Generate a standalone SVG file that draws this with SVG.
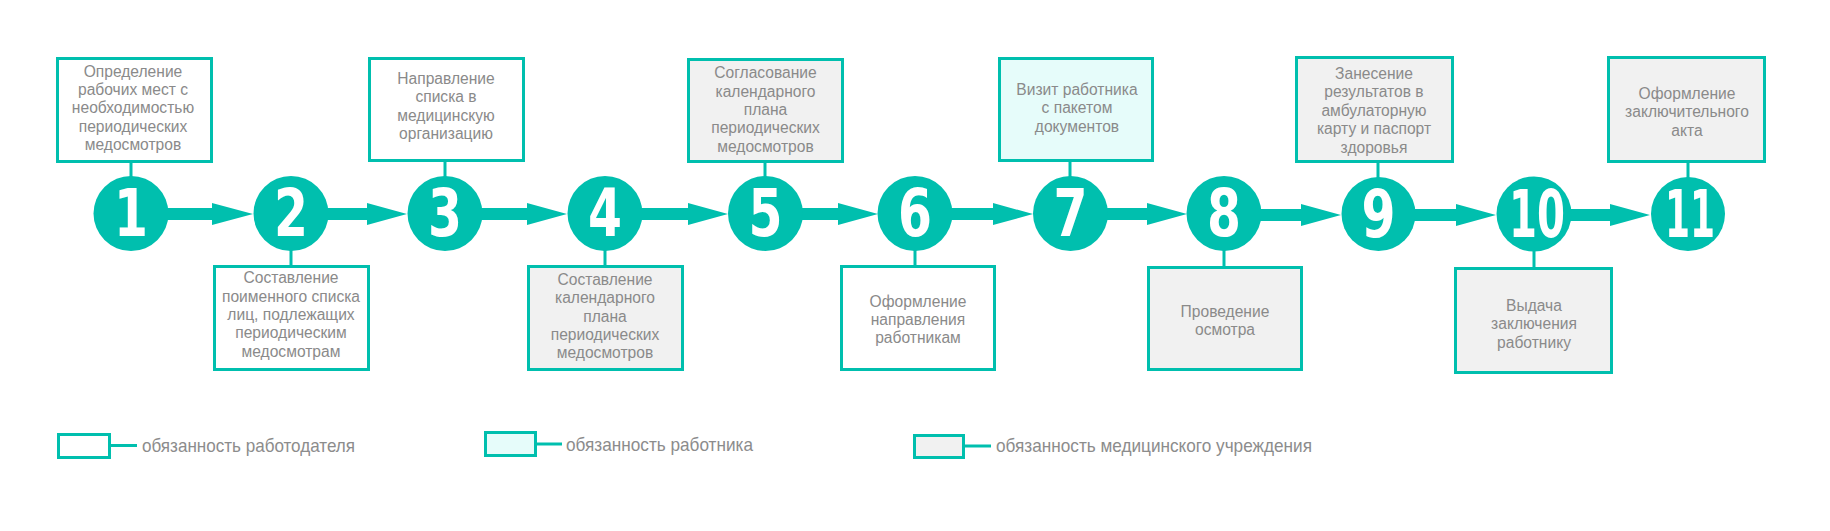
<svg xmlns="http://www.w3.org/2000/svg" width="1830" height="531" viewBox="0 0 1830 531">
<defs>
<style>
.box{stroke:#00bfae;stroke-width:3}
.w{fill:#ffffff}
.g{fill:#f1f1f1}
.c{fill:#e6fcfa}
.stub{stroke:#00bfae;stroke-width:3}
.circ{fill:#00bfae}
.num{font-family:"Liberation Sans Narrow","DejaVu Sans Condensed","Liberation Sans",sans-serif;font-weight:bold;font-size:66px;fill:#ffffff;text-anchor:middle}
.t{font-family:"Liberation Sans",Arial,sans-serif;font-size:15.6px;fill:#8a8a8a;text-anchor:middle}
.lg{font-family:"Liberation Sans",Arial,sans-serif;font-size:18.5px;fill:#8c8c8c}
.arr{fill:#00bfae}
</style>
</defs>
<rect width="1830" height="531" fill="#ffffff"/>
<g id="connectors">
<path class="arr" d="M131,208H212V203L253,214L212,225V220H131Z"/>
<path class="arr" d="M291,208H367V203L407,214L367,225V220H291Z"/>
<path class="arr" d="M445,208H527V203L567,214L527,225V220H445Z"/>
<path class="arr" d="M605,208H688V203L728,214L688,225V220H605Z"/>
<path class="arr" d="M765,208H838V203L878,214L838,225V220H765Z"/>
<path class="arr" d="M915,208H993V203L1033,214L993,225V220H915Z"/>
<path class="arr" d="M1070,208H1147V203L1187,214L1147,225V220H1070Z"/>
<path class="arr" d="M1224,209H1301V204L1341,215L1301,226V221H1224Z"/>
<path class="arr" d="M1378,209H1456V204L1496,215L1456,226V221H1378Z"/>
<path class="arr" d="M1534,209H1610V204L1650,215L1610,226V221H1534Z"/>
<line class="stub" x1="131" y1="163" x2="131" y2="180"/>
<line class="stub" x1="291" y1="248" x2="291" y2="265"/>
<line class="stub" x1="445" y1="162" x2="445" y2="180"/>
<line class="stub" x1="605" y1="248" x2="605" y2="265"/>
<line class="stub" x1="765" y1="163" x2="765" y2="180"/>
<line class="stub" x1="915" y1="248" x2="915" y2="265"/>
<line class="stub" x1="1070" y1="162" x2="1070" y2="180"/>
<line class="stub" x1="1224" y1="248" x2="1224" y2="266"/>
<line class="stub" x1="1378" y1="163" x2="1378" y2="180"/>
<line class="stub" x1="1534" y1="248" x2="1534" y2="267"/>
<line class="stub" x1="1688" y1="163" x2="1688" y2="180"/>
</g>
<g id="node1">
<rect class="box w" x="57.5" y="58.5" width="154" height="103"/>
<text class="t" x="133"><tspan x="133" y="76.7">Определение</tspan><tspan x="133" y="95">рабочих мест с</tspan><tspan x="133" y="113.3">необходимостью</tspan><tspan x="133" y="131.7">периодических</tspan><tspan x="133" y="150">медосмотров</tspan></text>
<circle class="circ" cx="131" cy="213.5" r="37.5"/>
<text class="num" x="131" y="236" textLength="34" lengthAdjust="spacingAndGlyphs">1</text>
</g>
<g id="node2">
<rect class="box w" x="214.5" y="266.5" width="154" height="103"/>
<text class="t"><tspan x="291" y="283.3">Составление</tspan><tspan x="291" y="301.7">поименного списка</tspan><tspan x="291" y="320">лиц, подлежащих</tspan><tspan x="291" y="338.3">периодическим</tspan><tspan x="291" y="356.7">медосмотрам</tspan></text>
<circle class="circ" cx="291" cy="213.5" r="37.5"/>
<text class="num" x="291" y="236" textLength="34" lengthAdjust="spacingAndGlyphs">2</text>
</g>
<g id="node3">
<rect class="box w" x="369.5" y="58.5" width="154" height="102"/>
<text class="t"><tspan x="446" y="84">Направление</tspan><tspan x="446" y="102.3">списка в</tspan><tspan x="446" y="120.7">медицинскую</tspan><tspan x="446" y="139">организацию</tspan></text>
<circle class="circ" cx="445" cy="213.5" r="37.5"/>
<text class="num" x="445" y="236" textLength="34" lengthAdjust="spacingAndGlyphs">3</text>
</g>
<g id="node4">
<rect class="box g" x="528.5" y="266.5" width="154" height="103"/>
<text class="t"><tspan x="605" y="285">Составление</tspan><tspan x="605" y="303.3">календарного</tspan><tspan x="605" y="321.7">плана</tspan><tspan x="605" y="340">периодических</tspan><tspan x="605" y="358.3">медосмотров</tspan></text>
<circle class="circ" cx="605" cy="213.5" r="37.5"/>
<text class="num" x="605" y="236" textLength="34" lengthAdjust="spacingAndGlyphs">4</text>
</g>
<g id="node5">
<rect class="box g" x="688.5" y="59.5" width="154" height="102"/>
<text class="t"><tspan x="765.5" y="78.3">Согласование</tspan><tspan x="765.5" y="96.7">календарного</tspan><tspan x="765.5" y="115">плана</tspan><tspan x="765.5" y="133.3">периодических</tspan><tspan x="765.5" y="151.7">медосмотров</tspan></text>
<circle class="circ" cx="765.5" cy="213.5" r="37.5"/>
<text class="num" x="765.5" y="236" textLength="34" lengthAdjust="spacingAndGlyphs">5</text>
</g>
<g id="node6">
<rect class="box w" x="841.5" y="266.5" width="153" height="103"/>
<text class="t"><tspan x="918" y="306.7">Оформление</tspan><tspan x="918" y="325">направления</tspan><tspan x="918" y="343.3">работникам</tspan></text>
<circle class="circ" cx="915" cy="213.5" r="37.5"/>
<text class="num" x="915" y="236" textLength="34" lengthAdjust="spacingAndGlyphs">6</text>
</g>
<g id="node7">
<rect class="box c" x="999.5" y="58.5" width="153" height="102"/>
<text class="t"><tspan x="1077" y="95">Визит работника</tspan><tspan x="1077" y="113.3">с пакетом</tspan><tspan x="1077" y="131.7">документов</tspan></text>
<circle class="circ" cx="1070.5" cy="213.5" r="37.5"/>
<text class="num" x="1070.5" y="236" textLength="34" lengthAdjust="spacingAndGlyphs">7</text>
</g>
<g id="node8">
<rect class="box g" x="1148.5" y="267.5" width="153" height="102"/>
<text class="t"><tspan x="1225" y="317">Проведение</tspan><tspan x="1225" y="335">осмотра</tspan></text>
<circle class="circ" cx="1224" cy="213.5" r="37.5"/>
<text class="num" x="1224" y="236" textLength="34" lengthAdjust="spacingAndGlyphs">8</text>
</g>
<g id="node9">
<rect class="box g" x="1296.5" y="57.5" width="156" height="104"/>
<text class="t"><tspan x="1374" y="78.5">Занесение</tspan><tspan x="1374" y="97">результатов в</tspan><tspan x="1374" y="115.5">амбулаторную</tspan><tspan x="1374" y="134">карту и паспорт</tspan><tspan x="1374" y="152.5">здоровья</tspan></text>
<circle class="circ" cx="1378.5" cy="214" r="37"/>
<text class="num" x="1378.5" y="236.5" textLength="34" lengthAdjust="spacingAndGlyphs">9</text>
</g>
<g id="node10">
<rect class="box g" x="1455.5" y="268.5" width="156" height="104"/>
<text class="t"><tspan x="1534" y="310.5">Выдача</tspan><tspan x="1534" y="329">заключения</tspan><tspan x="1534" y="347.5">работнику</tspan></text>
<circle class="circ" cx="1534" cy="214" r="37.5"/>
<text class="num" x="1537" y="237" textLength="56" lengthAdjust="spacingAndGlyphs">10</text>
</g>
<g id="node11">
<rect class="box g" x="1608.5" y="57.5" width="156" height="104"/>
<text class="t"><tspan x="1687" y="98.5">Оформление</tspan><tspan x="1687" y="117">заключительного</tspan><tspan x="1687" y="135.5">акта</tspan></text>
<circle class="circ" cx="1688" cy="214" r="37"/>
<text class="num" x="1690" y="237" textLength="50" lengthAdjust="spacingAndGlyphs">11</text>
</g>
<g id="legend">
<rect class="box w" x="58.5" y="434.5" width="51" height="23"/>
<line class="stub" x1="110" y1="445.5" x2="137" y2="445.5"/>
<text class="lg" x="142" y="452" textLength="213" lengthAdjust="spacingAndGlyphs">обязанность работодателя</text>
<rect class="box c" x="485.5" y="432.5" width="50" height="23"/>
<line class="stub" x1="536" y1="444" x2="562" y2="444"/>
<text class="lg" x="566" y="451" textLength="187" lengthAdjust="spacingAndGlyphs">обязанность работника</text>
<rect class="box g" x="914.5" y="435.5" width="49" height="22"/>
<line class="stub" x1="964" y1="446" x2="991" y2="446"/>
<text class="lg" x="996" y="452" textLength="316" lengthAdjust="spacingAndGlyphs">обязанность медицинского учреждения</text>
</g>
</svg>
